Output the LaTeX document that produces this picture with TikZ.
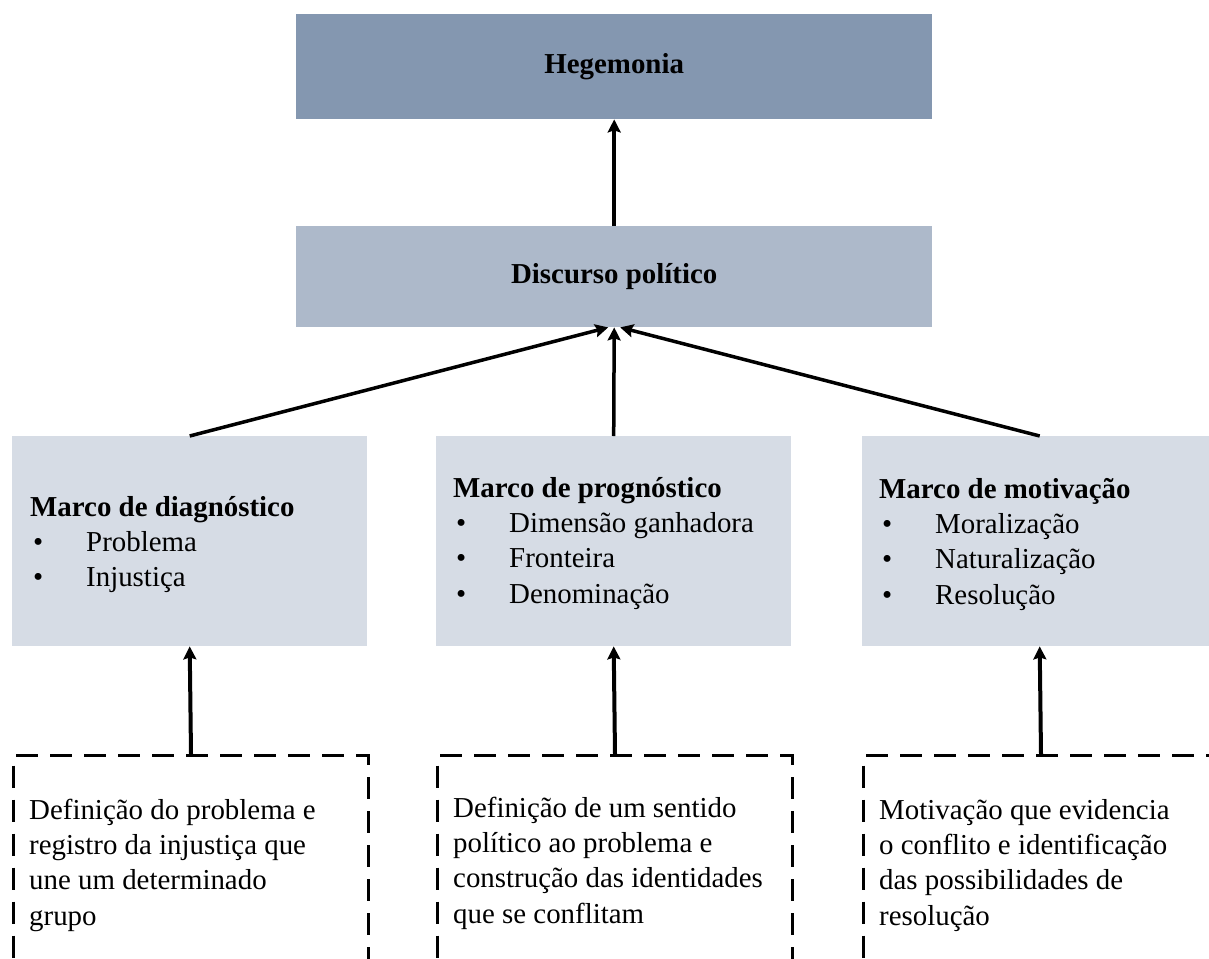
\documentclass[tikz,border=0pt]{standalone}
\usepackage{fontspec}
\setmainfont{Liberation Serif}
\usetikzlibrary{arrows.meta,calc}
\definecolor{hegc}{HTML}{8497B0}
\definecolor{discc}{HTML}{ADB9CA}
\definecolor{marcoc}{HTML}{D6DCE5}
\newcommand\myblock[1]{\parbox[t]{360bp}{\raggedright #1}}
\newcommand\myitem[1]{\makebox[56bp][l]{\hspace{3bp}•}#1}
\begin{document}
\begin{tikzpicture}[x=1bp,y=-1bp,
  font=\fontsize{29}{35.5}\selectfont,
  topbox/.style={anchor=north west, inner sep=0pt, minimum width=636bp, minimum height=105bp, draw=none},
  marcobox/.style={anchor=north west, inner sep=0pt, minimum width=355bp, minimum height=210bp, fill=marcoc, draw=none},
  dashbox/.style={anchor=north west, inner sep=0pt, minimum width=355bp, minimum height=300bp, draw=black, line width=3bp, dash pattern=on 22bp off 12bp},
  txt/.style={anchor=base west, inner sep=0pt},
  arr/.style={line width=3.5bp, -{Stealth[length=13bp,width=13bp,inset=2bp]}}
]
\useasboundingbox (0,0) rectangle (1209,959);
\clip (0,0) rectangle (1209,959);
\fill[white] (0,0) rectangle (1209,959);

% top boxes
\node[topbox, fill=hegc] (heg) at (296,14) {\textbf{Hegemonia}};
\node[topbox, fill=discc, minimum height=101bp] (disc) at (296,226) {\textbf{Discurso político}};

% marco boxes
\node[marcobox] (mdiag) at (12,436) {};
\node[marcobox] (mprog) at (436,436) {};
\node[marcobox] (mmot) at (862,436) {};

\node[txt] (tdiag) at ($(mdiag.north west)+(18,80)$) {\myblock{\textbf{Marco de diagnóstico}\\\myitem{Problema}\\\myitem{Injustiça}}};
\node[txt] (tprog) at ($(mprog.north west)+(17,61)$) {\myblock{\textbf{Marco de prognóstico}\\\myitem{Dimensão ganhadora}\\\myitem{Fronteira}\\\myitem{Denominação}}};
\node[txt] (tmot) at ($(mmot.north west)+(17,62)$) {\myblock{\textbf{Marco de motivação}\\\myitem{Moralização}\\\myitem{Naturalização}\\\myitem{Resolução}}};

% dashed boxes
\node[dashbox] (ddiag) at (12,754) {};
\node[dashbox] (dprog) at (436,754) {};
\node[dashbox] (dmot) at (862,754) {};

\node[txt] (bdiag) at ($(ddiag.north west)+(17,65)$) {\myblock{Definição do problema e\\registro da injustiça que\\une um determinado\\grupo}};
\node[txt] (bprog) at ($(dprog.north west)+(17,63)$) {\myblock{Definição de um sentido\\político ao problema e\\construção das identidades\\que se conflitam}};
\node[txt] (bmot) at ($(dmot.north west)+(17,65)$) {\myblock{Motivação que evidencia\\o conflito e identificação\\das possibilidades de\\resolução}};

% arrows
\draw[arr] (disc.north) -- (heg.south);
\draw[arr] (mdiag.north) -- ([xshift=-6bp]disc.south);
\draw[arr] (mprog.north) -- (disc.south);
\draw[arr] (mmot.north) -- ([xshift=6bp]disc.south);
\draw[arr, line width=4bp] (ddiag.north) -- (mdiag.south);
\draw[arr, line width=4bp] (dprog.north) -- (mprog.south);
\draw[arr, line width=4bp] (dmot.north) -- (mmot.south);
\end{tikzpicture}
\end{document}
